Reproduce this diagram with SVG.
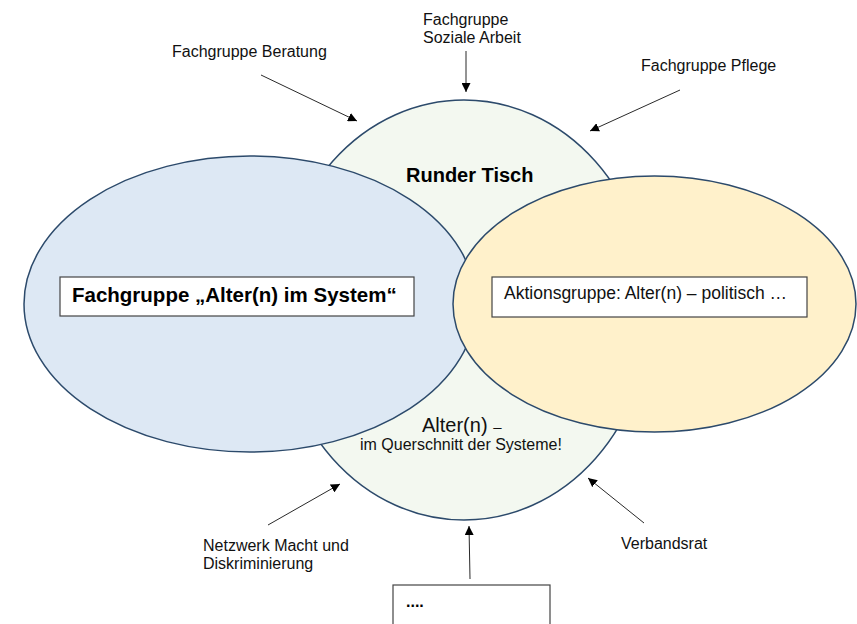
<svg xmlns="http://www.w3.org/2000/svg" width="857" height="624" viewBox="0 0 857 624">
<defs>
<marker id="ah" viewBox="0 0 10 10" refX="10" refY="5" markerWidth="9" markerHeight="9" markerUnits="userSpaceOnUse" orient="auto">
<path d="M0,0 L10,5 L0,10 Z" fill="#000"/>
</marker>
<style>
.ell{stroke:#2c4a6b;stroke-width:1.5}
.box{fill:#fff;stroke:#444;stroke-width:1.2}
.lbl{font-family:"Liberation Sans",Arial,sans-serif;font-size:16px;fill:#111}
.big{font-size:20px}
.mid{font-size:17.5px}
.bold{font-family:"Liberation Sans",Arial,sans-serif;font-weight:bold;fill:#000}
.con line{stroke:#111;stroke-width:0.9;marker-end:url(#ah)}
</style>
</defs>
<rect width="857" height="624" fill="#fff"/>
<g id="runder-tisch">
<ellipse class="ell" cx="464" cy="310" rx="186" ry="210" fill="#f3f8f0"/>
<text class="bold" x="406" y="182" font-size="20">Runder Tisch</text>
<text class="lbl big" x="422" y="432">Alter(n) <tspan style="font-size:15px">–</tspan></text>
<text class="lbl" x="360" y="450">im Querschnitt der Systeme!</text>
</g>
<g id="fachgruppe-system">
<ellipse class="ell" cx="250" cy="304" rx="226" ry="148" fill="#dde8f4"/>
<rect class="box" x="60" y="277" width="354" height="39"/>
<text class="bold" x="72" y="302" font-size="20.5">Fachgruppe „Alter(n) im System“</text>
</g>
<g id="aktionsgruppe">
<ellipse class="ell" cx="654.5" cy="304" rx="201.5" ry="128" fill="#fff1cb"/>
<rect class="box" x="492" y="277" width="315" height="40"/>
<text class="lbl mid" x="504" y="299">Aktionsgruppe: Alter(n) – politisch …</text>
</g>
<g id="fg-beratung"><text class="lbl" x="172" y="57">Fachgruppe Beratung</text></g>
<g id="fg-soziale"><text class="lbl" x="423" y="25">Fachgruppe<tspan x="423" y="43">Soziale Arbeit</tspan></text></g>
<g id="fg-pflege"><text class="lbl" x="641" y="71">Fachgruppe Pflege</text></g>
<g id="netzwerk"><text class="lbl" x="203" y="551">Netzwerk Macht und<tspan x="203" y="569">Diskriminierung</tspan></text></g>
<g id="verbandsrat"><text class="lbl" x="621" y="549">Verbandsrat</text></g>
<g id="weitere">
<rect class="box" x="393" y="585" width="157" height="60"/>
<text class="bold" x="406" y="607" font-size="16">....</text>
</g>
<g id="connectors" class="con">
<line x1="261" y1="75" x2="357" y2="121"/>
<line x1="466" y1="51" x2="466" y2="92"/>
<line x1="680" y1="90" x2="590" y2="131"/>
<line x1="268" y1="525" x2="340" y2="484"/>
<line x1="644" y1="523" x2="588" y2="478"/>
<line x1="470" y1="579" x2="469" y2="526"/>
</g>
</svg>
